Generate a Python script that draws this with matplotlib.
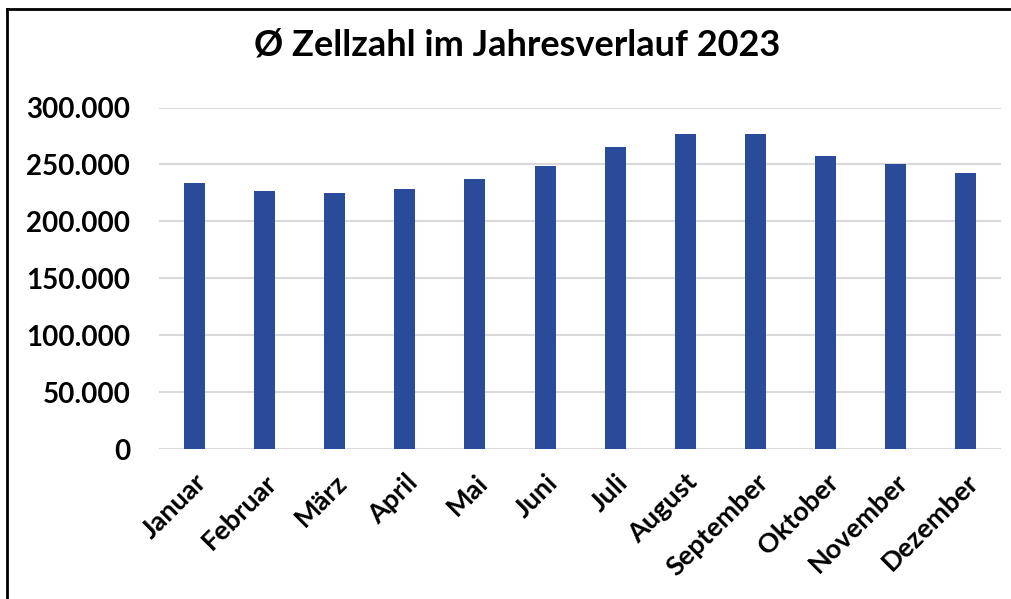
import matplotlib.pyplot as plt
from matplotlib.ticker import FuncFormatter, MultipleLocator
from matplotlib.lines import Line2D

# Monatswerte (Ø Zellzahl)
monate = ["Januar", "Februar", "März", "April", "Mai", "Juni", "Juli",
          "August", "September", "Oktober", "November", "Dezember"]
zellzahl = [233700, 226900, 224900, 228700, 236900, 248600, 265300,
            276500, 276500, 257400, 250700, 242200]

plt.rcParams['font.family'] = ['Lato', 'DejaVu Sans']
plt.rcParams['font.weight'] = 'bold'

fig = plt.figure(figsize=(10.11, 5.99), dpi=100)
ax = fig.add_axes([0.1576, 0.2504, 0.8324, 0.5701])

ax.bar(range(len(monate)), zellzahl, width=0.30, color='#2a4b9a', zorder=3)

ax.set_xlim(-0.5, len(monate) - 0.5)
ax.set_ylim(0, 300000)
ax.yaxis.set_major_locator(MultipleLocator(50000))
ax.yaxis.set_major_formatter(FuncFormatter(lambda v, p: f"{int(v):,}".replace(",", ".")))
ax.grid(axis='y', color='#d9d9d9', linewidth=1.5, zorder=0)

for s in ax.spines.values():
    s.set_visible(False)
ax.tick_params(axis='both', length=0)
ax.tick_params(axis='y', pad=21, labelsize=20)

ax.set_xticks(range(len(monate)))
ax.set_xticklabels(monate, rotation=45, ha='right', va='top', rotation_mode='anchor',
                   fontsize=19.5, fontweight='bold')
ax.tick_params(axis='x', pad=15)

fig.text(0.512, 0.925, "Ø Zellzahl im Jahresverlauf 2023", ha='center', va='center',
         fontsize=26, fontweight='bold')

# Rahmen oben und links
fig.add_artist(Line2D([7 / 1011, 1], [1 - 9 / 599, 1 - 9 / 599], color='black', linewidth=2))
fig.add_artist(Line2D([7 / 1011, 7 / 1011], [0, 1 - 9 / 599], color='black', linewidth=2))

fig.savefig("out.png", dpi=100)
